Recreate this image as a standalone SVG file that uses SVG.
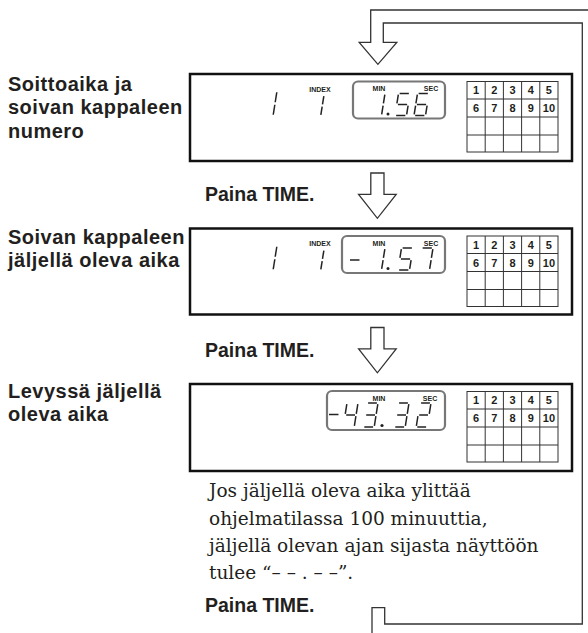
<svg xmlns="http://www.w3.org/2000/svg" xmlns:xlink="http://www.w3.org/1999/xlink" width="588" height="633" viewBox="0 0 588 633">
<style>
.lbl{font-family:"Liberation Sans",Arial,sans-serif;font-weight:bold;font-size:20px;letter-spacing:0.5px;fill:#231f20}
.step{font-family:"Liberation Sans",Arial,sans-serif;font-weight:bold;font-size:19.5px;fill:#231f20}
.note{font-family:"DejaVu Serif",serif;font-size:18.5px;fill:#231f20}
.tiny{font-family:"Liberation Sans",Arial,sans-serif;font-weight:bold;font-size:7px;fill:#231f20;text-anchor:middle}
.num{font-family:"Liberation Sans",Arial,sans-serif;font-weight:bold;font-size:11px;fill:#231f20;text-anchor:middle}
.box{fill:#fff;stroke:#111;stroke-width:2.5}
.disp{fill:none;stroke:#777;stroke-width:2.2}
.grid{fill:none;stroke:#333;stroke-width:1}
.seg line{stroke:#222;stroke-width:1.5;vector-effect:non-scaling-stroke}
.dash{stroke:#222;stroke-width:1.5}
.dot{fill:#222}
.arrow{fill:#fff;stroke:#333;stroke-width:1.3;stroke-linejoin:miter}
.loop{fill:none;stroke:#333;stroke-width:1.3}
</style>
<defs>
<g id="d1" class="seg"><line x1="10" y1="1" x2="10" y2="9"/><line x1="10" y1="11" x2="10" y2="19"/></g>
<g id="d2" class="seg"><line x1="1" y1="0" x2="9" y2="0"/><line x1="10" y1="1" x2="10" y2="9"/><line x1="1" y1="10" x2="9" y2="10"/><line x1="0" y1="11" x2="0" y2="19"/><line x1="1" y1="20" x2="9" y2="20"/></g>
<g id="d3" class="seg"><line x1="1" y1="0" x2="9" y2="0"/><line x1="10" y1="1" x2="10" y2="9"/><line x1="1" y1="10" x2="9" y2="10"/><line x1="10" y1="11" x2="10" y2="19"/><line x1="1" y1="20" x2="9" y2="20"/></g>
<g id="d4" class="seg"><line x1="0" y1="1" x2="0" y2="9"/><line x1="1" y1="10" x2="9" y2="10"/><line x1="10" y1="1" x2="10" y2="9"/><line x1="10" y1="11" x2="10" y2="19"/></g>
<g id="d5" class="seg"><line x1="1" y1="0" x2="9" y2="0"/><line x1="0" y1="1" x2="0" y2="9"/><line x1="1" y1="10" x2="9" y2="10"/><line x1="10" y1="11" x2="10" y2="19"/><line x1="1" y1="20" x2="9" y2="20"/></g>
<g id="d6" class="seg"><line x1="1" y1="0" x2="9" y2="0"/><line x1="0" y1="1" x2="0" y2="9"/><line x1="1" y1="10" x2="9" y2="10"/><line x1="0" y1="11" x2="0" y2="19"/><line x1="10" y1="11" x2="10" y2="19"/><line x1="1" y1="20" x2="9" y2="20"/></g>
<g id="d7" class="seg"><line x1="1" y1="0" x2="9" y2="0"/><line x1="10" y1="1" x2="10" y2="9"/><line x1="10" y1="11" x2="10" y2="19"/></g>
<g id="grid">
<rect class="grid" x="0" y="0" width="91" height="70.5"/>
<path class="grid" d="M18.2 0V70.5M36.4 0V70.5M54.6 0V70.5M72.8 0V70.5M0 17.5H91M0 35.5H91M0 53.5H91"/>
<text class="num" x="9.1" y="12.7">1</text><text class="num" x="27.3" y="12.7">2</text><text class="num" x="45.5" y="12.7">3</text><text class="num" x="63.7" y="12.7">4</text><text class="num" x="81.9" y="12.7">5</text>
<text class="num" x="9.1" y="30.5">6</text><text class="num" x="27.3" y="30.5">7</text><text class="num" x="45.5" y="30.5">8</text><text class="num" x="63.7" y="30.5">9</text><text class="num" x="81.9" y="30.5">10</text>
</g>
</defs>
<rect width="588" height="633" fill="#fff"/>

<g id="connectors">
<path class="loop" d="M372 640V607.7H384.7V624H582.3V23H383.3V42.3H396.8L377.9 64.3L359.2 42.3H370.7V10H600"/>
<path class="arrow" d="M370.8 173H384V194.3H396.2L377.4 218.3L358.6 194.3H370.8Z"/>
<path class="arrow" d="M370.8 327.5H384V348.8H396.2L377.4 372.8L358.6 348.8H370.8Z"/>
</g>

<g id="label1">
<text class="lbl" x="8" y="91">Soittoaika ja</text>
<text class="lbl" x="8" y="114">soivan kappaleen</text>
<text class="lbl" x="8" y="138">numero</text>
</g>
<g id="display1">
<rect class="box" x="190" y="74" width="382" height="87"/>
<use xlink:href="#d1" transform="translate(267,91) skewX(-9) scale(1,1.25)"/>
<text class="tiny" x="320" y="91.5">INDEX</text>
<use xlink:href="#d1" transform="translate(314,95) skewX(-9) scale(1,1.05)"/>
<rect class="disp" x="353" y="81.5" width="92" height="37" rx="5"/>
<text class="tiny" x="379" y="91">MIN</text>
<text class="tiny" x="431" y="91">SEC</text>
<use xlink:href="#d1" transform="translate(373.5,93.5) skewX(-9) scale(1.15,1.1)"/>
<circle class="dot" cx="388" cy="114" r="1.5"/>
<use xlink:href="#d5" transform="translate(398.5,93.5) skewX(-9) scale(1.15,1.1)"/>
<use xlink:href="#d6" transform="translate(417.5,93.5) skewX(-9) scale(1.15,1.1)"/>
<use xlink:href="#grid" transform="translate(467,81.5)"/>
</g>

<g id="step1">
<text class="step" x="205" y="201">Paina TIME.</text>
</g>

<g id="label2">
<text class="lbl" x="8" y="244">Soivan kappaleen</text>
<text class="lbl" x="8" y="267">jäljellä oleva aika</text>
</g>
<g id="display2">
<rect class="box" x="190" y="228.5" width="382" height="86"/>
<use xlink:href="#d1" transform="translate(267,245.5) skewX(-9) scale(1,1.25)"/>
<text class="tiny" x="320" y="245.5">INDEX</text>
<use xlink:href="#d1" transform="translate(314,249.5) skewX(-9) scale(1,1.05)"/>
<rect class="disp" x="342" y="236" width="103" height="37" rx="5"/>
<text class="tiny" x="379" y="245.5">MIN</text>
<text class="tiny" x="431" y="245.5">SEC</text>
<line class="dash" x1="350" y1="260" x2="359.5" y2="260"/>
<use xlink:href="#d1" transform="translate(373.5,248) skewX(-9) scale(1.15,1.1)"/>
<circle class="dot" cx="388" cy="268.5" r="1.5"/>
<use xlink:href="#d5" transform="translate(401.5,248) skewX(-9) scale(1.15,1.1)"/>
<use xlink:href="#d7" transform="translate(421.5,248) skewX(-9) scale(1.15,1.1)"/>
<use xlink:href="#grid" transform="translate(467,236)"/>
</g>

<g id="step2">
<text class="step" x="205" y="357">Paina TIME.</text>
</g>

<g id="label3">
<text class="lbl" x="8" y="398">Levyssä jäljellä</text>
<text class="lbl" x="8" y="421">oleva aika</text>
</g>
<g id="display3">
<rect class="box" x="190" y="384" width="382" height="87"/>
<rect class="disp" x="327" y="391" width="118" height="39" rx="5"/>
<text class="tiny" x="379" y="400.5">MIN</text>
<text class="tiny" x="430" y="400.5">SEC</text>
<line class="dash" x1="329" y1="414.5" x2="338.5" y2="414.5"/>
<use xlink:href="#d4" transform="translate(347,403) skewX(-9) scale(1.1,1.2)"/>
<use xlink:href="#d3" transform="translate(367,403) skewX(-9) scale(1.1,1.2)"/>
<circle class="dot" cx="382" cy="425.5" r="1.6"/>
<use xlink:href="#d3" transform="translate(398,403) skewX(-9) scale(1.1,1.2)"/>
<use xlink:href="#d2" transform="translate(420,403) skewX(-9) scale(1.1,1.2)"/>
<use xlink:href="#grid" transform="translate(467,391.5)"/>
</g>

<g id="note">
<text class="note" x="209" y="497">Jos jäljellä oleva aika ylittää</text>
<text class="note" x="209" y="524.5">ohjelmatilassa 100 minuuttia,</text>
<text class="note" x="209" y="552">jäljellä olevan ajan sijasta näyttöön</text>
<text class="note" x="209" y="579">tulee “– – . – –”.</text>
</g>

<g id="step3">
<text class="step" x="205" y="612">Paina TIME.</text>
</g>
</svg>
